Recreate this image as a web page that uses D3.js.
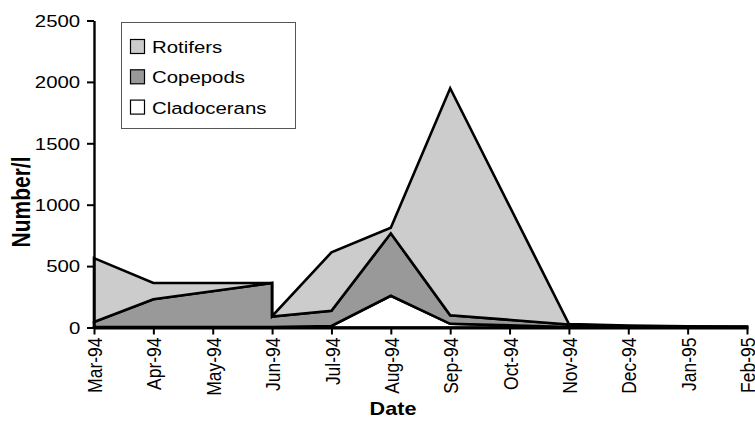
<!DOCTYPE html>
<html>
<head>
<meta charset="utf-8">
<script src="https://cdn.jsdelivr.net/npm/d3@7"></script>
<style>
  html, body { margin: 0; padding: 0; background: #fff; }
  svg { display: block; font-family: "Liberation Sans", Arial, sans-serif; }
</style>
</head>
<body>
<svg id="chart" width="755" height="439"></svg>
<script>
// ---- data ----
const monthLabels = ["Mar-94","Apr-94","May-94","Jun-94","Jul-94","Aug-94","Sep-94","Oct-94","Nov-94","Dec-94","Jan-95","Feb-95"];
// sampling points, as index into monthLabels (two samples in June 1994)
const sampleMonth = [0, 1, 3, 3, 4, 5, 6, 8, 9, 10, 11];
const cladocerans = [4, 4, 3, 3, 12, 258, 30, 4, 2, 1, 1];
const copepods    = [41, 226, 359, 87, 125, 509, 70, 20, 8, 5, 4];
const rotifers    = [520, 132, 0, 3, 475, 45, 1848, 4, 5, 4, 3];
const seriesNames = ["Rotifers", "Copepods", "Cladocerans"];
const yTicks = [0, 500, 1000, 1500, 2000, 2500];

// ---- styles ----
const fills = { Rotifers: "#cccccc", Copepods: "#999999", Cladocerans: "#ffffff" };
const SX = 1.2; // horizontal stretch of the reference text

const svg = d3.select("#chart");
const x = d3.scaleLinear().domain([0, 11]).range([94, 747]);
const y = d3.scaleLinear().domain([0, 2500]).range([327.5, 20.5]);

const rows = sampleMonth.map((m, i) => ({
  m, Cladocerans: cladocerans[i], Copepods: copepods[i], Rotifers: rotifers[i]
}));
const stack = d3.stack().keys(["Cladocerans", "Copepods", "Rotifers"]);
const layers = stack(rows);

const area = d3.area()
  .x(d => x(d.data.m))
  .y0(d => y(d[0]))
  .y1(d => y(d[1]));

svg.append("g").selectAll("path").data(layers).join("path")
  .attr("d", area)
  .attr("fill", d => fills[d.key])
  .attr("stroke", "#000")
  .attr("stroke-width", 2.6)
  .attr("stroke-linejoin", "miter");

// ---- axes ----
const yAxis = svg.append("g")
  .attr("transform", `translate(${x(0)},0)`)
  .call(d3.axisLeft(y).tickValues(yTicks).tickFormat(d3.format("d"))
    .tickSize(7).tickPadding(0).tickSizeOuter(0));
yAxis.select(".domain").attr("stroke-width", 2.4);
yAxis.selectAll(".tick line").attr("stroke-width", 2);
yAxis.selectAll("text")
  .attr("x", -11.5)
  .attr("dy", "0.34em")
  .attr("transform", `scale(${SX},1)`)
  .attr("font-size", 17)
  .attr("fill", "#000");

const xAxis = svg.append("g")
  .attr("transform", `translate(0,${y(0)})`)
  .call(d3.axisBottom(x).tickValues(d3.range(monthLabels.length))
    .tickFormat(i => monthLabels[i]).tickSize(7).tickSizeOuter(0));
xAxis.select(".domain").attr("stroke-width", 2.8);
xAxis.selectAll(".tick line").attr("stroke-width", 2);
xAxis.selectAll("text")
  .attr("x", -10)
  .attr("y", 0)
  .attr("dy", "0.36em")
  .attr("text-anchor", "end")
  .attr("transform", `scale(${SX},1) rotate(-90)`)
  .attr("font-size", 17.5)
  .attr("fill", "#000");

// axis titles
svg.append("text")
  .attr("transform", `translate(393,415) scale(${SX},1)`)
  .attr("text-anchor", "middle")
  .attr("font-size", 18)
  .attr("font-weight", "bold")
  .text("Date");

svg.append("text")
  .attr("transform", `translate(30,202) scale(${SX},1) rotate(-90)`)
  .attr("text-anchor", "middle")
  .attr("font-size", 21)
  .attr("font-weight", "bold")
  .text("Number/l");

// ---- legend ----
const lg = svg.append("g");
lg.append("rect")
  .attr("x", 121.5).attr("y", 22.5).attr("width", 174).attr("height", 106)
  .attr("fill", "#fff").attr("stroke", "#555").attr("stroke-width", 1);
const items = lg.selectAll("g.item").data(seriesNames).join("g")
  .attr("class", "item")
  .attr("transform", (d, i) => `translate(0,${46.5 + i * 30.3})`);
items.append("rect")
  .attr("x", 130.5).attr("y", -7).attr("width", 14).attr("height", 14)
  .attr("fill", d => fills[d]).attr("stroke", "#000").attr("stroke-width", 1.2);
items.append("text")
  .attr("transform", `translate(152,6.5) scale(${SX},1)`)
  .attr("font-size", 17)
  .text(d => d);
</script>
</body>
</html>
